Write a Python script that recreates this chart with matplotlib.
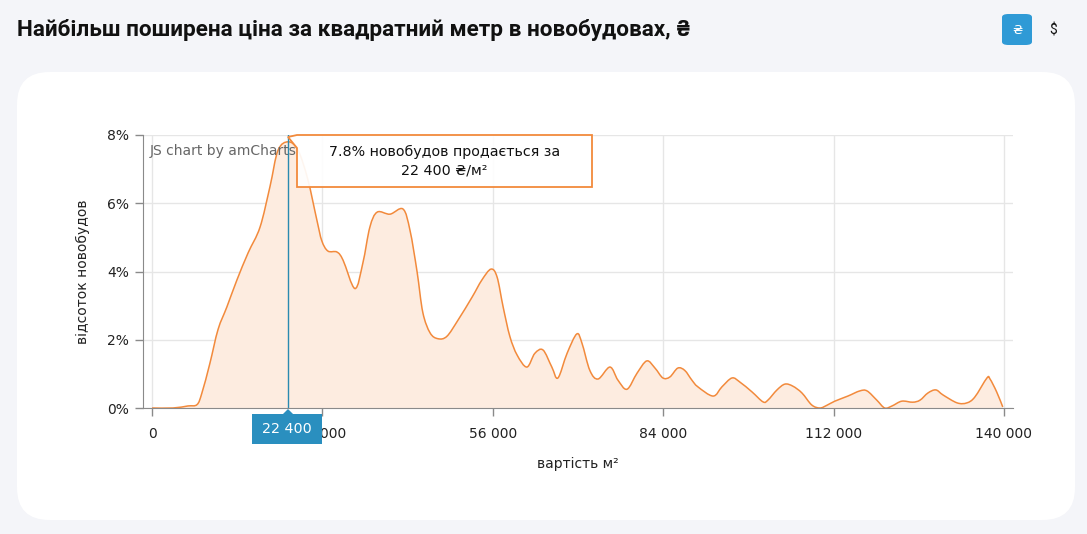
import numpy as np
import matplotlib
matplotlib.use('Agg')
from matplotlib import pyplot as plt
from matplotlib.patches import FancyBboxPatch, Polygon, PathPatch
from matplotlib.path import Path

plt.rcParams['font.family'] = 'DejaVu Sans'

# ціна за м2 (грн) і частка новобудов (%)
price = [0, 3450, 5900, 7400, 8200, 9500, 10850, 12300, 13950, 15800,
         17750, 19400, 20700, 22400, 24000, 25600, 27100, 27900, 28900, 30400,
         31400, 33350, 34650, 35800, 37000, 39100, 41250, 42400, 43550, 44500,
         45700, 47000, 48450, 50300, 52600, 54200, 55700, 56700, 57700, 58800,
         60000, 61600, 62900, 64250, 65700, 66700, 68200, 69800, 70650, 71950,
         73300, 75250, 76550, 78050, 79700, 81300, 82650, 83950, 85100, 86400,
         87550, 88700, 89700, 92200, 93650, 95300, 96600, 98600, 100400, 101200,
         102700, 104000, 105300, 106800, 108400, 109750, 110900, 112200, 114350, 116300,
         117500, 119100, 120400, 121600, 123200, 125000, 126200, 127500, 128800, 130000,
         132300, 133900, 135200, 137200, 137700, 138800, 139800]
share = [0.0, 0.0, 0.06, 0.1, 0.44, 1.3, 2.3, 2.96, 3.75, 4.55,
         5.3, 6.5, 7.55, 7.8, 7.55, 6.7, 5.5, 4.9, 4.6, 4.57,
         4.33, 3.5, 4.25, 5.3, 5.74, 5.68, 5.83, 5.2, 4.0, 2.8,
         2.2, 2.03, 2.1, 2.58, 3.25, 3.75, 4.07, 3.84, 2.96, 2.1,
         1.55, 1.2, 1.6, 1.7, 1.2, 0.88, 1.6, 2.17, 1.9, 1.1,
         0.85, 1.2, 0.82, 0.55, 1.02, 1.38, 1.17, 0.88, 0.91, 1.17,
         1.1, 0.82, 0.62, 0.35, 0.62, 0.88, 0.76, 0.47, 0.18, 0.23,
         0.53, 0.7, 0.64, 0.44, 0.09, 0.0, 0.08, 0.2, 0.35, 0.5,
         0.5, 0.23, 0.0, 0.06, 0.2, 0.17, 0.23, 0.44, 0.53, 0.38,
         0.15, 0.15, 0.32, 0.88, 0.85, 0.47, 0.03]

x_ticks = [0, 28000, 56000, 84000, 112000, 140000]
x_labels = ['0', '28 000', '56 000', '84 000', '112 000', '140 000']
y_ticks = [0, 2, 4, 6, 8]
y_labels = ['0%', '2%', '4%', '6%', '8%']

peak_x = 22400
peak_y = 7.8

orange = '#f28a3c'
blue = '#2a8fbf'


def smooth_path(xs, ys, close_to_zero=False):
    # гладка крива через точки (Catmull-Rom -> Bezier)
    p = np.column_stack([xs, ys]).astype(float)
    n = len(p)
    verts = [p[0]]
    codes = [Path.MOVETO]
    for i in range(n - 1):
        p0 = p[max(i - 1, 0)]
        p1 = p[i]
        p2 = p[i + 1]
        p3 = p[min(i + 2, n - 1)]
        c1 = p1 + (p2 - p0) / 6.0
        c2 = p2 - (p3 - p1) / 6.0
        verts += [c1, c2, p2]
        codes += [Path.CURVE4] * 3
    if close_to_zero:
        verts += [(p[-1][0], 0), (p[0][0], 0), p[0]]
        codes += [Path.LINETO, Path.LINETO, Path.CLOSEPOLY]
    return Path(verts, codes)


W, H = 1087, 534
fig = plt.figure(figsize=(W/100, H/100), dpi=100)
fig.patch.set_facecolor('#f4f5f9')

# біла картка
card = FancyBboxPatch((17/W, 1-520/H), (1075-17)/W, (520-72)/H,
                      boxstyle='round,pad=0,rounding_size=0.03',
                      transform=fig.transFigure, facecolor='white',
                      edgecolor='none', mutation_aspect=W/H, zorder=-5)
fig.patches.append(card)

fig.text(17/W, 1-30/H, 'Найбільш поширена ціна за квадратний метр в новобудовах, ₴',
         family='Roboto', weight='bold', fontsize=16.2,
         va='center', ha='left', color='#111111')

# кнопки валют
btn = FancyBboxPatch((1002/W, 1-45/H), 30/W, 31/H,
                     boxstyle='round,pad=0,rounding_size=0.006',
                     transform=fig.transFigure, facecolor='#2f9ad6',
                     edgecolor='none')
fig.patches.append(btn)
fig.text(1017/W, 1-30/H, '₴', color='white', fontsize=9.5, ha='center', va='center',
         family='DejaVu Sans')
fig.text(1053/W, 1-30/H, '$', color='#111111', fontsize=10, ha='center', va='center',
         family='Roboto')

ax = fig.add_axes([143/W, 1-408/H, (1013-143)/W, (408-135)/H])
ax.set_facecolor('white')
ax.add_patch(PathPatch(smooth_path(price, share, True), facecolor='#fdece0',
                       edgecolor='none', zorder=1))
ax.add_patch(PathPatch(smooth_path(price, share), facecolor='none',
                       edgecolor=orange, lw=1.1, zorder=2))

ax.set_xlim(-1480, 141480)
ax.set_ylim(0, 8)
ax.set_xticks(x_ticks)
ax.set_xticklabels(x_labels, family='DejaVu Sans')
ax.set_yticks(y_ticks)
ax.set_yticklabels(y_labels, family='DejaVu Sans')
ax.grid(True, color='#e6e6e6', lw=1)
ax.set_axisbelow(True)
for s in ['top', 'right']:
    ax.spines[s].set_visible(False)
for s in ['left', 'bottom']:
    ax.spines[s].set_color('#8a8a8a')
ax.tick_params(axis='both', colors='#8a8a8a', labelcolor='#222222', labelsize=10,
               length=6, width=1)
ax.tick_params(axis='x', pad=8)
ax.tick_params(axis='y', pad=4)
ax.set_xlabel('вартість м²', fontsize=10, color='#222222', labelpad=11,
              family='DejaVu Sans')
ax.set_ylabel('відсоток новобудов', fontsize=10, color='#222222', labelpad=12,
              family='DejaVu Sans')

ax.text(0.008, 0.94, 'JS chart by amCharts', transform=ax.transAxes,
        fontsize=10, color='#666666', ha='left', va='center', zorder=3,
        family='DejaVu Sans')

# курсор
ax.axvline(peak_x, color='#2a8ab0', lw=1, zorder=4)

# підказка
box_l, box_r = 297, 592
box_t, box_b = 135, 187
px_peak = 288
tip = Polygon([(box_l/W, 1-box_t/H), (px_peak/W, 1-137/H), (box_l/W, 1-148/H),
               (box_l/W, 1-box_b/H), (box_r/W, 1-box_b/H), (box_r/W, 1-box_t/H)],
              closed=True, transform=fig.transFigure, facecolor=(1, 1, 1, 0.92),
              edgecolor=orange, lw=1.3, zorder=5)
fig.patches.append(tip)
fig.text((box_l+box_r)/2/W, 1-161/H, '7.8% новобудов продається за\n22 400 ₴/м²',
         fontsize=10.3, ha='center', va='center', color='#111111', linespacing=1.45,
         zorder=6, family='DejaVu Sans')

# мітка на осі x
lab = Polygon([(252/W, 1-414/H), (283/W, 1-414/H), (288/W, 1-409/H), (293/W, 1-414/H),
               (322/W, 1-414/H), (322/W, 1-444/H), (252/W, 1-444/H)],
              closed=True, transform=fig.transFigure, facecolor=blue,
              edgecolor='none', zorder=5)
fig.patches.append(lab)
fig.text(287/W, 1-429/H, '22 400', fontsize=10.3, ha='center', va='center', color='white',
         zorder=6, family='DejaVu Sans')

fig.savefig('out.png', dpi=100, facecolor=fig.get_facecolor())
